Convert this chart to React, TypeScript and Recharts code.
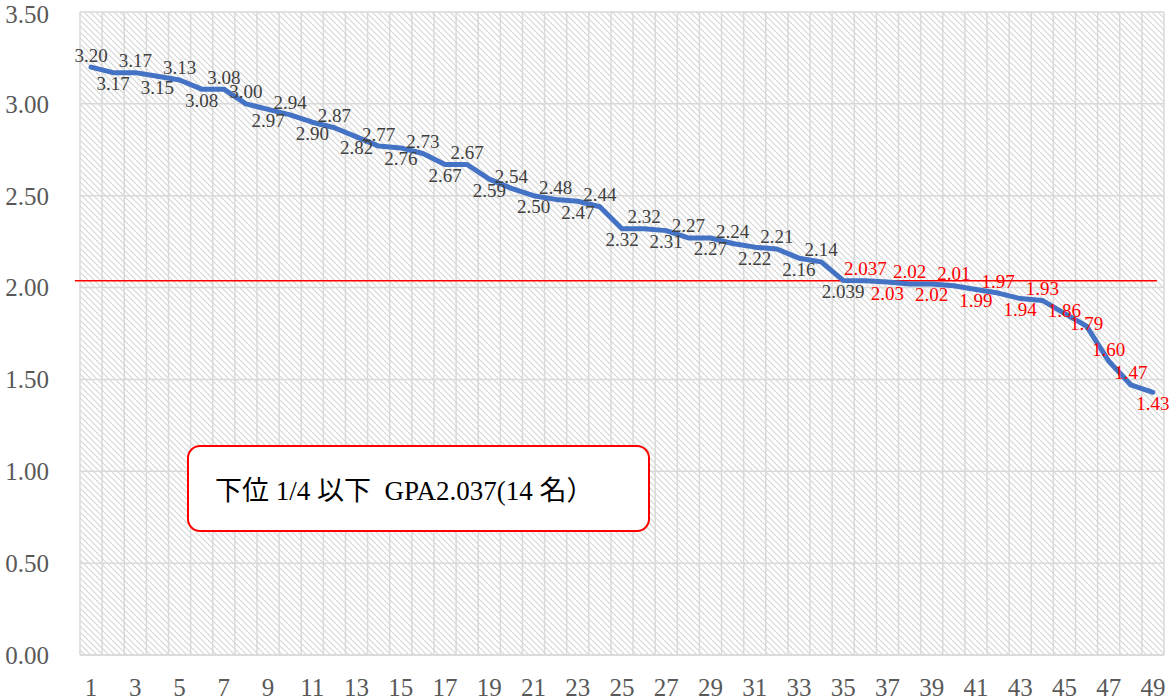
import { LineChart, Line, XAxis, YAxis, CartesianGrid, ReferenceLine, LabelList } from "recharts";

// GPA by rank (1 = highest)
const GPA = [
  3.2, 3.17, 3.17, 3.15, 3.13, 3.08, 3.08, 3.0, 2.97, 2.94,
  2.9, 2.87, 2.82, 2.77, 2.76, 2.73, 2.67, 2.67, 2.59, 2.54,
  2.5, 2.48, 2.47, 2.44, 2.32, 2.32, 2.31, 2.27, 2.27, 2.24,
  2.22, 2.21, 2.16, 2.14, 2.039, 2.037, 2.03, 2.02, 2.02, 2.01,
  1.99, 1.97, 1.94, 1.93, 1.86, 1.79, 1.6, 1.47, 1.43,
];
const X_TICKS = [1, 3, 5, 7, 9, 11, 13, 15, 17, 19, 21, 23, 25, 27, 29, 31, 33, 35, 37, 39, 41, 43, 45, 47, 49];
const Y_TICKS = [0, 0.5, 1, 1.5, 2, 2.5, 3, 3.5];
const CUTOFF = 2.037; // lower quarter line
const RED_FROM_RANK = 36;
const NOTE = "下位 1/4 以下  GPA2.037(14 名）";

// where each data label sits: a = above, b = below, c = on the point
const LABEL_SIDE = "abababaa" + "babababababababababababababababababa" + "ccaab";

const data = GPA.map((gpa, i) => ({ rank: i + 1, gpa }));

const W = 1169;
const H = 700;
const SERIF = '"Liberation Serif", Tinos, "DejaVu Serif", serif';
const GRID = "#d9d9d9";

const fmt = (v: number) => (Math.abs(Math.round(v * 100) - v * 100) < 1e-6 ? v.toFixed(2) : v.toFixed(3));

function DataLabel(props: any) {
  const { x, y, value, index } = props;
  if (x == null || y == null) return null;
  const side = LABEL_SIDE[index] ?? "a";
  const dy = side === "a" ? -12 : side === "b" ? 11 : -3;
  return (
    <text
      x={x}
      y={y + dy}
      textAnchor="middle"
      dominantBaseline="central"
      fontSize={19}
      fontFamily={SERIF}
      fill={index + 1 >= RED_FROM_RANK ? "#ff0000" : "#404040"}
    >
      {fmt(value)}
    </text>
  );
}

export default function App() {
  return (
    <div style={{ position: "absolute", left: 0, top: 0, width: W, height: H, background: "#fff" }}>
      <LineChart width={W} height={H} data={data} margin={{ top: 12, right: 5, bottom: 0, left: 0 }}>
        <defs>
          <pattern id="hatch" width="6" height="6" patternUnits="userSpaceOnUse">
            <rect width="6" height="6" fill="#ffffff" />
            <path d="M0,0 L6,6 M-3,3 L3,9 M3,-3 L9,3" stroke="#d6d6d6" strokeWidth="1.2" />
          </pattern>
        </defs>
        <CartesianGrid
          fill="url(#hatch)"
          stroke={GRID}
          strokeWidth={1.5}
          verticalCoordinatesGenerator={({ offset }: any) =>
            GPA.map((_, i) => offset.left + (i * offset.width) / GPA.length).concat(offset.left + offset.width)
          }
        />
        <XAxis
          dataKey="rank"
          type="number"
          domain={[0.5, 49.5]}
          ticks={X_TICKS}
          interval={0}
          height={45}
          axisLine={{ stroke: GRID, strokeWidth: 1.5 }}
          tickLine={false}
          tickSize={0}
          tickMargin={23}
          tick={{ fontSize: 25, fontFamily: SERIF, fill: "#595959" }}
        />
        <YAxis
          type="number"
          domain={[0, 3.5]}
          ticks={Y_TICKS}
          width={80}
          axisLine={false}
          tickLine={false}
          tickSize={0}
          tickMargin={31}
          tickFormatter={(v: number) => v.toFixed(2)}
          tick={{ fontSize: 25, fontFamily: SERIF, fill: "#595959" }}
        />
        <ReferenceLine
          segment={[
            { x: 0.27, y: CUTOFF },
            { x: 49.18, y: CUTOFF },
          ]}
          stroke="#ff0000"
          strokeWidth={1.5}
          ifOverflow="visible"
        />
        <Line
          type="linear"
          dataKey="gpa"
          stroke="#4472C4"
          strokeWidth={5}
          strokeLinejoin="round"
          strokeLinecap="round"
          dot={false}
          activeDot={false}
          isAnimationActive={false}
        >
          <LabelList dataKey="gpa" content={<DataLabel />} />
        </Line>
      </LineChart>
      <div
        style={{
          position: "absolute",
          left: 187,
          top: 445,
          width: 463,
          height: 87,
          boxSizing: "border-box",
          border: "2px solid #ff0000",
          borderRadius: 13,
          background: "#fff",
          display: "flex",
          alignItems: "center",
          paddingLeft: 26,
          fontFamily: '"Liberation Serif", Tinos, "DejaVu Serif", "Noto Sans CJK JP", serif',
          fontSize: 27,
          color: "#000",
          whiteSpace: "pre",
        }}
      >
        {NOTE}
      </div>
    </div>
  );
}
